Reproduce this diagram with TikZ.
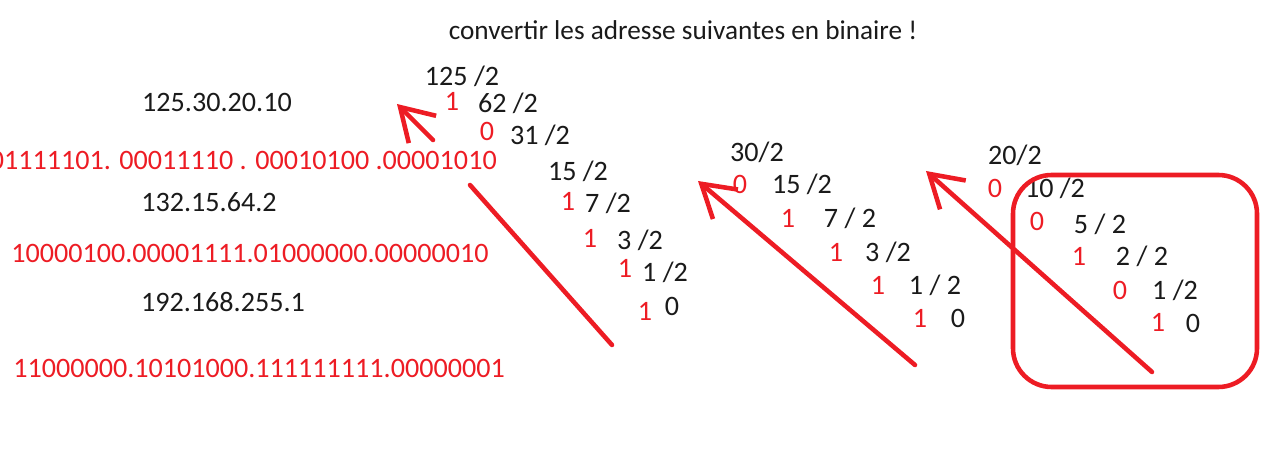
\documentclass[tikz,border=0pt]{standalone}
\usepackage{fontspec}
\setmainfont{Carlito}
\usepackage{tikz}
\usetikzlibrary{arrows.meta}

\definecolor{paintred}{HTML}{ED1C24}
\definecolor{paintblack}{HTML}{1A1A1A}

\begin{document}
\begin{tikzpicture}[x=0.02cm, y=-0.02cm,
        num/.style={text=paintblack, font=\fontsize{16}{19}\selectfont, inner sep=0pt},
        bit/.style={text=paintred, font=\fontsize{16}{19}\selectfont, inner sep=0pt},
        trait/.style={draw=paintred, line width=2.6pt, line cap=round, line join=round},
        fleche/.style={trait, -{Straight Barb[length=18pt, width=22pt, line width=2.6pt]}}]
        \useasboundingbox (0,0) rectangle (1279,456);

        % we write the question
        \node[num, font=\fontsize{15.5}{18}\selectfont] (titre) at (683,30) {convertir les adresse suivantes en binaire !};

        % we write the three addresses and their binary form
        \node[num] (ip1) at (217,102) {125.30.20.10};
        \node[bit, anchor=east] (bin1) at (497,160) {01111101. 00011110 . 00010100 .00001010};
        \node[num] (ip2) at (209,202) {132.15.64.2};
        \node[bit] (bin2) at (250,253) {10000100.00001111.01000000.00000010};
        \node[num] (ip3) at (223,302) {192.168.255.1};
        \node[bit] (bin3) at (259,368) {11000000.10101000.111111111.00000001};

        % column 1: 125 divided by 2
        \node[num] (a125) at (462,76) {125 /2};
        \node[bit] (ra1) at (452,101) {1};
        \node[num] (a62) at (508,103) {62 /2};
        \node[bit] (ra2) at (487,131) {0};
        \node[num] (a31) at (540,135) {31 /2};
        \node[num] (a15) at (578,171) {15 /2};
        \node[bit] (ra3) at (568,201) {1};
        \node[num] (a7) at (608,203) {7 /2};
        \node[bit] (ra4) at (590,238) {1};
        \node[num] (a3) at (640,240) {3 /2};
        \node[bit] (ra5) at (625,268) {1};
        \node[num] (a1) at (665,272) {1 /2};
        \node[bit] (ra6) at (645,311) {1};
        \node[num] (a0) at (672,306) {0};

        % column 2: 30 divided by 2
        \node[num] (b30) at (757,152) {30/2};
        \node[bit] (rb1) at (740,184) {0};
        \node[num] (b15) at (802,184) {15 /2};
        \node[bit] (rb2) at (788,218) {1};
        \node[num] (b7) at (850,218) {7 / 2};
        \node[bit] (rb3) at (836,252) {1};
        \node[num] (b3) at (888,252) {3 /2};
        \node[bit] (rb4) at (878,285) {1};
        \node[num] (b1) at (935,285) {1 / 2};
        \node[bit] (rb5) at (920,318) {1};
        \node[num] (b0) at (958,318) {0};

        % column 3: 20 divided by 2
        \node[num] (c20) at (1015,155) {20/2};
        \node[bit] (rc1) at (995,188) {0};
        \node[num] (c10) at (1055,188) {10 /2};
        \node[bit] (rc2) at (1037,221) {0};
        \node[num] (c5) at (1100,224) {5 / 2};
        \node[bit] (rc3) at (1079,256) {1};
        \node[num] (c2) at (1142,256) {2 / 2};
        \node[bit] (rc4) at (1120,290) {0};
        \node[num] (c1) at (1175,290) {1 /2};
        \node[bit] (rc5) at (1158,322) {1};
        \node[num] (c0) at (1193,323) {0};

        % we frame the last column
        \draw[trait, rounded corners=22] (1013,175) rectangle (1257,387);

        % we draw the reading arrows (bottom to top)
        \coordinate (p1a) at (612,345);
        \coordinate (p1b) at (470,185);
        \coordinate (p1c) at (433,140);
        \coordinate (p1d) at (397,104);
        \draw[trait] (p1a) -- (p1b);
        \draw[fleche] (p1c) -- (p1d);

        \coordinate (p2a) at (915,365);
        \coordinate (p2b) at (698,181);
        \draw[fleche] (p2a) -- (p2b);

        \coordinate (p3a) at (1152,372);
        \coordinate (p3b) at (926,171);
        \draw[fleche] (p3a) -- (p3b);
    \end{tikzpicture}
\end{document}
